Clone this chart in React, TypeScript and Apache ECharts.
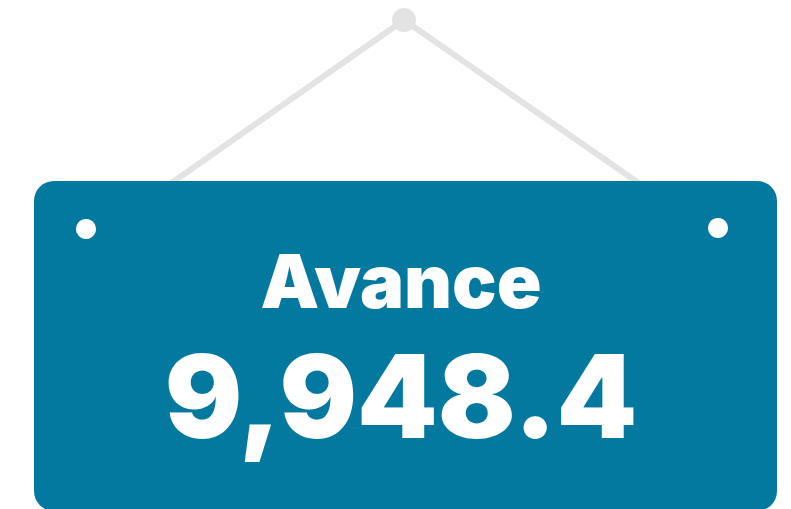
import React, { useEffect, useRef } from "react";
import * as echarts from "echarts";

const labels: string[] = ["Avance"];
const values: number[] = [9948.4];

const formatValue = (v: number) =>
  v.toLocaleString("en-US", { minimumFractionDigits: 1, maximumFractionDigits: 1 });

export default function App() {
  const ref = useRef<HTMLDivElement>(null);
  useEffect(() => {
    if (!ref.current) return;
    const chart = echarts.init(ref.current, null, { renderer: "svg" });
    const signColor = "#03799F";
    const gray = "#E3E3E3";
    chart.setOption({
      animation: false,
      graphic: [
        {
          type: "polyline",
          shape: { points: [[170, 184], [404, 20], [640, 184]] },
          style: { stroke: gray, lineWidth: 6, fill: null },
        },
        {
          type: "circle",
          shape: { cx: 404, cy: 20, r: 12 },
          style: { fill: gray },
        },
        {
          type: "rect",
          shape: { x: 34, y: 181, width: 743, height: 330, r: 20 },
          style: { fill: signColor },
        },
        {
          type: "circle",
          shape: { cx: 86, cy: 229, r: 10 },
          style: { fill: "#ffffff" },
        },
        {
          type: "circle",
          shape: { cx: 718, cy: 228, r: 10 },
          style: { fill: "#ffffff" },
        },
        {
          type: "text",
          style: {
            text: labels[0],
            x: 401,
            y: 281,
            align: "center",
            verticalAlign: "middle",
            fill: "#ffffff",
            font: "900 74px Inter, 'Noto Sans', sans-serif",
          },
        },
        {
          type: "text",
          style: {
            text: formatValue(values[0]),
            x: 401,
            y: 396,
            align: "center",
            verticalAlign: "middle",
            fill: "#ffffff",
            font: "900 115px Inter, 'Noto Sans', sans-serif",
          },
        },
      ],
    });
    return () => chart.dispose();
  }, []);
  return <div ref={ref} style={{ width: 791, height: 509, position: "absolute", left: 0, top: 0 }} />;
}
